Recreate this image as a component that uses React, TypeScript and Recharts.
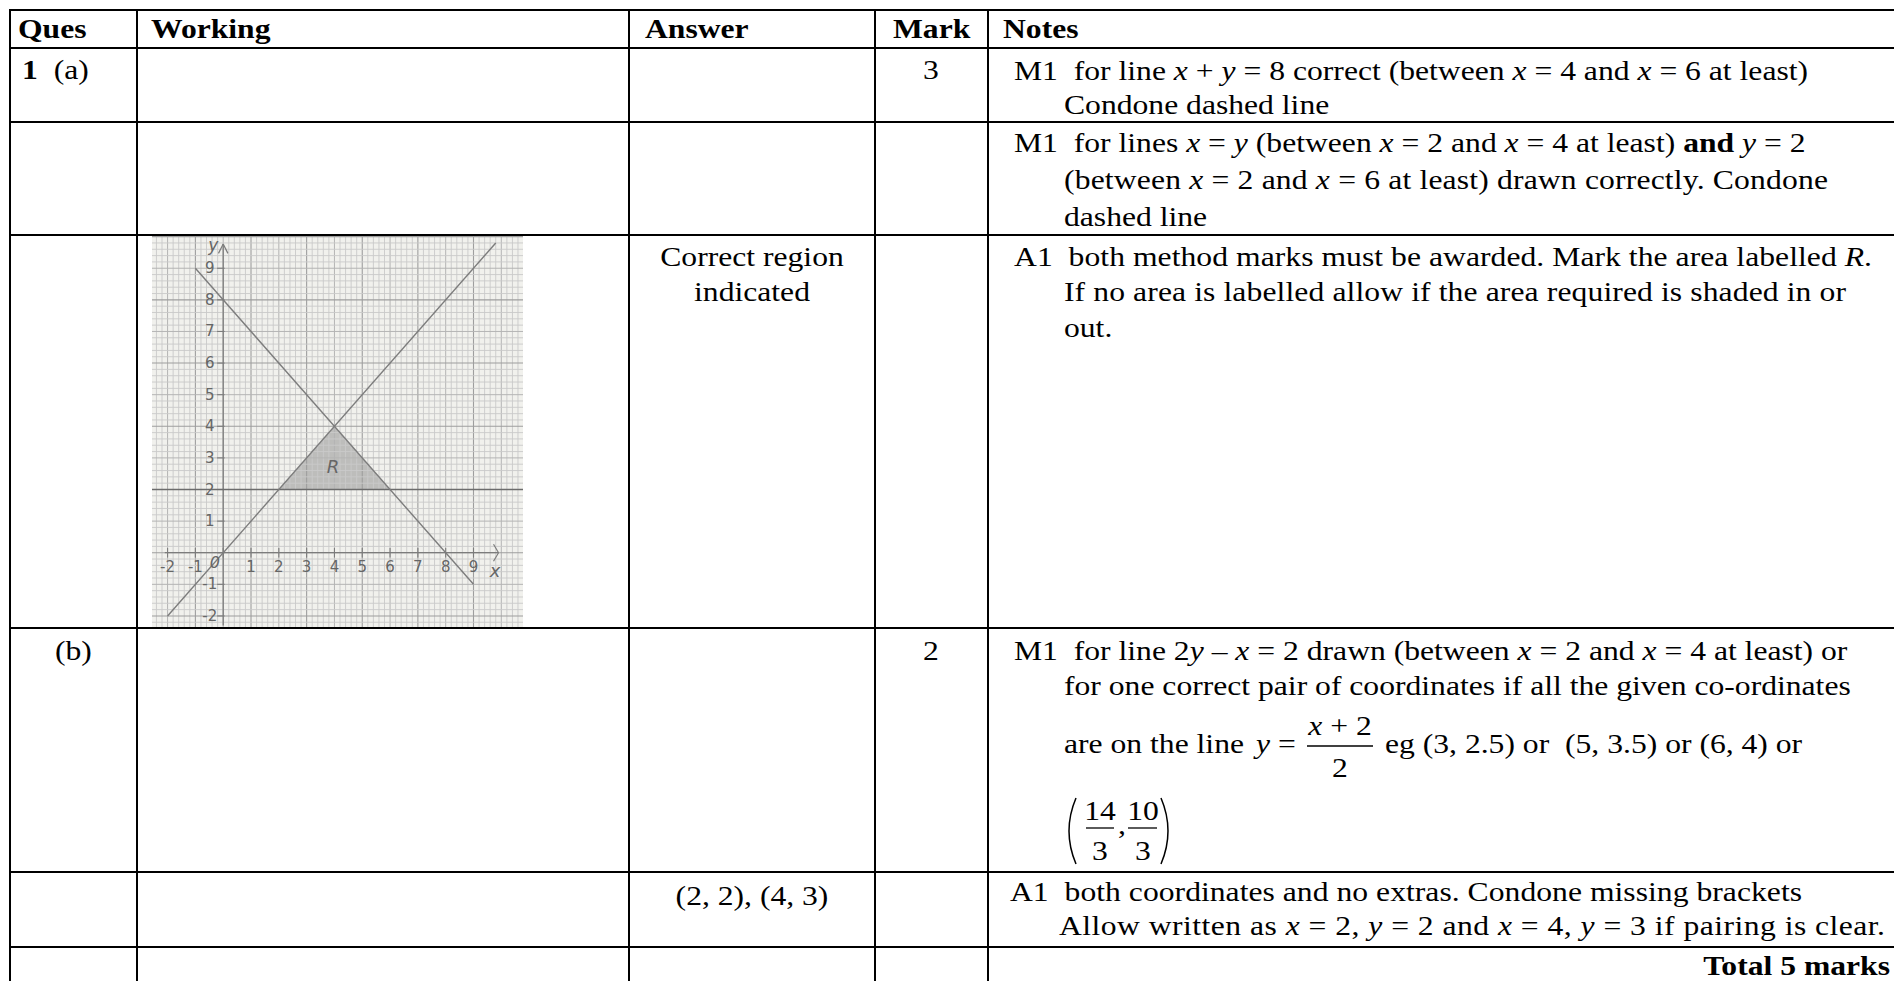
import React from 'react';
import {
  ComposedChart,
  Line,
  Area,
  XAxis,
  YAxis,
  ReferenceLine,
  ReferenceDot,
} from 'recharts';

// graph paper window (data units)
const X_DOMAIN: [number, number] = [-2.56, 10.78];
const Y_DOMAIN: [number, number] = [-2.35, 10.02];

// pencil lines drawn by the candidate
const lineXPlusY8 = [{ x: -1, y: 9 }, { x: 9, y: -1 }];
const lineXEqualsY = [{ x: -2, y: -2 }, { x: 9.8, y: 9.8 }];
const lineY2 = [{ x: -2.56, y: 2 }, { x: 10.78, y: 2 }];
// shaded region R
const regionR = [{ x: 2, y: 2 }, { x: 4, y: 4 }, { x: 6, y: 2 }];

const xTickValues = [-2, -1, 0, 1, 2, 3, 4, 5, 6, 7, 8, 9];
const yTickValues = [-2, -1, 0, 1, 2, 3, 4, 5, 6, 7, 8, 9];
const xTickLabels = [-2, -1, 1, 2, 3, 4, 5, 6, 7, 8, 9];
const yTickLabels = [-2, -1, 1, 2, 3, 4, 5, 6, 7, 8, 9];

const SERIF = "'Liberation Serif', 'Times New Roman', serif";
const SX = 1.13;
const PENCIL = '#7c7c7c';

// graph paper rulings, 1mm = 0.2 units
const paperX: number[] = [];
for (let i = Math.ceil(X_DOMAIN[0] / 0.2); i * 0.2 <= X_DOMAIN[1]; i++) paperX.push(Math.round(i * 2) / 10);
const paperY: number[] = [];
for (let i = Math.ceil(Y_DOMAIN[0] / 0.2); i * 0.2 <= Y_DOMAIN[1]; i++) paperY.push(Math.round(i * 2) / 10);

const rulingStyle = (v: number, heavyOdd: boolean) => {
  if (Number.isInteger(v)) {
    const heavy = heavyOdd ? Math.abs(v) % 2 === 1 : v % 2 === 0;
    return heavy ? { stroke: '#9e9e9e', strokeWidth: 1.1 } : { stroke: '#b4b4b4', strokeWidth: 1 };
  }
  return { stroke: '#c9c9c9', strokeWidth: 0.9 };
};

const pencilText = (txt: string, size = 15, italic = false) => (p: any) => (
  <text
    x={p.cx}
    y={p.cy}
    textAnchor="middle"
    dominantBaseline="central"
    fontFamily="'DejaVu Sans', sans-serif"
    fontSize={size}
    fontStyle={italic ? 'italic' : 'normal'}
    fill="#666"
  >
    {txt}
  </text>
);

function GraphPaper() {
  return (
    <div style={{ position: 'absolute', left: 152, top: 236, width: 371, height: 391, background: '#f1f1ed' }}>
      <ComposedChart width={371} height={391} margin={{ top: 0, right: 0, bottom: 0, left: 0 }}>
        <XAxis type="number" dataKey="x" domain={X_DOMAIN} hide allowDataOverflow />
        <YAxis type="number" dataKey="y" domain={Y_DOMAIN} hide allowDataOverflow />
        {paperX.map((v) => (
          <ReferenceLine key={'px' + v} x={v} {...rulingStyle(v, true)} />
        ))}
        {paperY.map((v) => (
          <ReferenceLine key={'py' + v} y={v} {...rulingStyle(v, false)} />
        ))}
        <Area
          data={regionR}
          dataKey="y"
          baseValue={2}
          type="linear"
          fill="#8a8a8a"
          fillOpacity={0.5}
          stroke="none"
          isAnimationActive={false}
        />
        {/* axes */}
        <ReferenceLine segment={[{ x: -2.1, y: 0 }, { x: 9.9, y: 0 }]} stroke={PENCIL} strokeWidth={1.3} />
        <ReferenceLine segment={[{ x: 9.72, y: 0.27 }, { x: 9.9, y: 0 }]} stroke={PENCIL} strokeWidth={1.2} />
        <ReferenceLine segment={[{ x: 9.72, y: -0.27 }, { x: 9.9, y: 0 }]} stroke={PENCIL} strokeWidth={1.2} />
        <ReferenceLine segment={[{ x: 0, y: -2.3 }, { x: 0, y: 9.77 }]} stroke={PENCIL} strokeWidth={1.3} />
        <ReferenceLine segment={[{ x: -0.17, y: 9.47 }, { x: 0, y: 9.77 }]} stroke={PENCIL} strokeWidth={1.2} />
        <ReferenceLine segment={[{ x: 0.17, y: 9.47 }, { x: 0, y: 9.77 }]} stroke={PENCIL} strokeWidth={1.2} />
        {xTickValues.map((v) => (
          <ReferenceLine key={'tx' + v} segment={[{ x: v, y: -0.15 }, { x: v, y: 0.15 }]} stroke={PENCIL} strokeWidth={1.1} />
        ))}
        {yTickValues.map((v) => (
          <ReferenceLine key={'ty' + v} segment={[{ x: -0.22, y: v }, { x: 0.05, y: v }]} stroke={PENCIL} strokeWidth={1.1} />
        ))}
        <Line data={lineY2} dataKey="y" type="linear" stroke="#6c6c6c" strokeWidth={1.5} dot={false} isAnimationActive={false} />
        <Line data={lineXPlusY8} dataKey="y" type="linear" stroke={PENCIL} strokeWidth={1.4} dot={false} isAnimationActive={false} />
        <Line data={lineXEqualsY} dataKey="y" type="linear" stroke={PENCIL} strokeWidth={1.4} dot={false} isAnimationActive={false} />
        {xTickLabels.map((v) => (
          <ReferenceDot key={'lx' + v} x={v} y={-0.45} r={0} shape={pencilText(String(v))} />
        ))}
        {yTickLabels.map((v) => (
          <ReferenceDot key={'ly' + v} x={-0.48} y={v} r={0} shape={pencilText(String(v))} />
        ))}
        <ReferenceDot x={-0.3} y={-0.3} r={0} shape={pencilText('0', 16, true)} />
        <ReferenceDot x={9.78} y={-0.55} r={0} shape={pencilText('x', 18, true)} />
        <ReferenceDot x={-0.36} y={9.75} r={0} shape={pencilText('y', 17, true)} />
        <ReferenceDot x={3.95} y={2.72} r={0} shape={pencilText('R', 18, true)} />
      </ComposedChart>
    </div>
  );
}

const I = ({ children }: { children: React.ReactNode }) => <tspan fontStyle="italic">{children}</tspan>;
const B = ({ children }: { children: React.ReactNode }) => <tspan fontWeight="bold">{children}</tspan>;

function T({
  x,
  y,
  anchor = 'start',
  bold = false,
  size = 28,
  w,
  children,
}: {
  x: number;
  y: number;
  anchor?: 'start' | 'middle' | 'end';
  bold?: boolean;
  size?: number;
  w?: number;
  children: React.ReactNode;
}) {
  const fit = w ? { textLength: w / SX, lengthAdjust: 'spacing' } : {};
  return (
    <g transform={`translate(${x},${y}) scale(${SX},1)`}>
      <text
        x={0}
        y={0}
        textAnchor={anchor}
        fontFamily={SERIF}
        fontSize={size}
        fontWeight={bold ? 'bold' : 'normal'}
        fill="#000"
        style={{ whiteSpace: 'pre' }}
        {...fit}
      >
        {children}
      </text>
    </g>
  );
}

const COLS = [10, 137, 629, 875, 988];
const ROWS = [10, 48, 122, 235, 628, 872, 947];

function MarkTable() {
  return (
    <svg width={1894} height={981} style={{ position: 'absolute', left: 0, top: 0 }}>
      <rect x={0} y={0} width={1894} height={981} fill="#fff" />
      {COLS.map((c) => (
        <line key={'c' + c} x1={c} x2={c} y1={9} y2={981} stroke="#000" strokeWidth={2} />
      ))}
      {ROWS.map((r) => (
        <line key={'r' + r} x1={9} x2={1894} y1={r} y2={r} stroke="#000" strokeWidth={2.2} />
      ))}

      {/* header */}
      <T x={18} y={38} bold>Ques</T>
      <T x={151} y={38} bold>Working</T>
      <T x={645} y={38} bold>Answer</T>
      <T x={893} y={38} bold>Mark</T>
      <T x={1003} y={38} bold>Notes</T>

      {/* 1 (a) */}
      <T x={22} y={79}><B>1</B>  (a)</T>
      <T x={931} y={79} anchor="middle">3</T>
      <T x={1014} y={80}>M1  for line <I>x</I> + <I>y</I> = 8 correct (between <I>x</I> = 4 and <I>x</I> = 6 at least)</T>
      <T x={1064} y={114}>Condone dashed line</T>

      <T x={1014} y={152}>M1  for lines <I>x</I> = <I>y</I> (between <I>x</I> = 2 and <I>x</I> = 4 at least) <B>and</B> <I>y</I> = 2</T>
      <T x={1064} y={189} w={764}>(between <I>x</I> = 2 and <I>x</I> = 6 at least) drawn correctly. Condone</T>
      <T x={1064} y={226}>dashed line</T>

      <T x={752} y={266} anchor="middle">Correct region</T>
      <T x={752} y={301} anchor="middle">indicated</T>
      <T x={1014} y={266} w={858}>A1  both method marks must be awarded. Mark the area labelled <I>R</I>.</T>
      <T x={1064} y={301} w={782}>If no area is labelled allow if the area required is shaded in or</T>
      <T x={1064} y={337}>out.</T>

      {/* (b) */}
      <T x={55} y={660}>(b)</T>
      <T x={931} y={660} anchor="middle">2</T>
      <T x={1014} y={660}>M1  for line 2<I>y</I> – <I>x</I> = 2 drawn (between <I>x</I> = 2 and <I>x</I> = 4 at least) or</T>
      <T x={1064} y={695}>for one correct pair of coordinates if all the given co-ordinates</T>
      <T x={1064} y={753}>are on the line</T>
      <T x={1256} y={753}><I>y</I> =</T>
      <T x={1340} y={735} anchor="middle"><I>x</I> + 2</T>
      <line x1={1307} x2={1373} y1={746} y2={746} stroke="#000" strokeWidth={1.3} />
      <T x={1340} y={777} anchor="middle">2</T>
      <T x={1385} y={753}>eg (3, 2.5) or  (5, 3.5) or (6, 4) or</T>

      <path d="M1076 798 Q1062 831 1076 864" fill="none" stroke="#000" strokeWidth={1.5} />
      <path d="M1161 798 Q1175 831 1161 864" fill="none" stroke="#000" strokeWidth={1.5} />
      <T x={1100} y={820} anchor="middle">14</T>
      <line x1={1086} x2={1114} y1={828} y2={828} stroke="#000" strokeWidth={1.3} />
      <T x={1100} y={860} anchor="middle">3</T>
      <T x={1118} y={834}>,</T>
      <T x={1143} y={820} anchor="middle">10</T>
      <line x1={1128} x2={1157} y1={828} y2={828} stroke="#000" strokeWidth={1.3} />
      <T x={1143} y={860} anchor="middle">3</T>

      <T x={752} y={905} anchor="middle">(2, 2), (4, 3)</T>
      <T x={1010} y={901} w={792}>A1  both coordinates and no extras. Condone missing brackets</T>
      <T x={1059} y={935} w={826}>Allow written as <I>x</I> = 2, <I>y</I> = 2 and <I>x</I> = 4, <I>y</I> = 3 if pairing is clear.</T>

      <T x={1890} y={975} anchor="end" bold>Total 5 marks</T>
    </svg>
  );
}

export default function App() {
  return (
    <div style={{ position: 'relative', width: 1894, height: 981, overflow: 'hidden', background: '#fff' }}>
      <style>{'body{margin:0}'}</style>
      <MarkTable />
      <GraphPaper />
    </div>
  );
}
